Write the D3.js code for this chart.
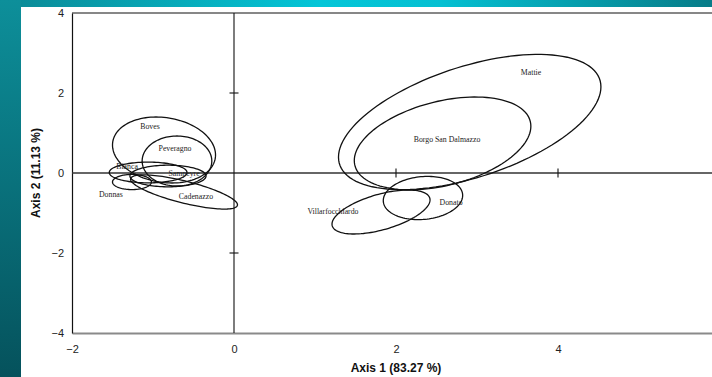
<!DOCTYPE html>
<html>
<head>
<meta charset="utf-8">
<script src="https://cdn.jsdelivr.net/npm/d3@7"></script>
<style>
  html, body { margin: 0; padding: 0; background: #fff; }
  svg { display: block; }
  .tick-label { font-family: "Liberation Sans", Arial, sans-serif; font-size: 11px; fill: #222; }
  .axis-title { font-family: "Liberation Sans", Arial, sans-serif; font-size: 12px; font-weight: bold; fill: #111; }
  .site-label { font-family: "Liberation Serif", "Times New Roman", serif; font-size: 7.8px; fill: #222; }
</style>
</head>
<body>
<div id="chart"></div>
<script>
// ---------- data (PCA scores, 95% ellipses) ----------
const names = ["Mattie", "Borgo San Dalmazzo", "Villarfocchiardo", "Donato",
  "Boves", "Peveragno", "Bianca", "Sampeyre", "Donnas", "Cadenazzo"];
const centerX = [2.91, 2.575, 1.815, 2.333, -0.864, -0.704, -1.06, -0.815, -1.26, -0.617];
const centerY = [1.275, 0.74, -0.975, -0.625, 0.575, 0.3, 0.0125, -0.075, -0.225, -0.475];
const spreadX = [1.62, 1.09, 0.605, 0.49, 0.636, 0.43, 0.48, 0.47, 0.24, 0.66];
const spreadY = [1.69, 1.16, 0.55, 0.54, 0.825, 0.625, 0.26, 0.27, 0.19, 0.427];
const corr = [0.52, 0.37, 0.55, 0.12, -0.15, 0, 0, 0, 0, -0.75];
const labelX = [3.667, 2.63, 1.222, 2.68, -1.037, -0.728, -1.32, -0.617, -1.52, -0.47];
const labelY = [2.5, 0.825, -0.975, -0.75, 1.15, 0.6, 0.15, -0.025, -0.55, -0.6];

const xTicks = [-2, 0, 2, 4];
const yTicks = [-4, -2, 0, 2, 4];
const xTitle = "Axis 1 (83.27 %)";
const yTitle = "Axis 2 (11.13 %)";

// ---------- layout ----------
const width = 712, height = 377;
const plot = { left: 72, top: 13, right: 720, bottom: 333 };

const svg = d3.select("#chart").append("svg")
  .attr("width", width)
  .attr("height", height);

// slide background (teal frame on top and left)
const defs = svg.append("defs");
const gTop = defs.append("linearGradient").attr("id", "gTop").attr("x1", 0).attr("x2", 1).attr("y1", 0).attr("y2", 0);
gTop.append("stop").attr("offset", "0%").attr("stop-color", "#0b8894");
gTop.append("stop").attr("offset", "45%").attr("stop-color", "#04c6d8");
gTop.append("stop").attr("offset", "62%").attr("stop-color", "#05c0d2");
gTop.append("stop").attr("offset", "100%").attr("stop-color", "#077c88");
const gLeft = defs.append("linearGradient").attr("id", "gLeft").attr("x1", 0).attr("x2", 0).attr("y1", 0).attr("y2", 1);
gLeft.append("stop").attr("offset", "0%").attr("stop-color", "#0d8f9a");
gLeft.append("stop").attr("offset", "100%").attr("stop-color", "#05525c");

svg.append("rect").attr("x", 0).attr("y", 0).attr("width", width).attr("height", 7).attr("fill", "url(#gTop)");
svg.append("rect").attr("x", 0).attr("y", 0).attr("width", 21).attr("height", height).attr("fill", "url(#gLeft)");

defs.append("clipPath").attr("id", "plotClip")
  .append("rect")
  .attr("x", plot.left).attr("y", plot.top)
  .attr("width", width - plot.left).attr("height", plot.bottom - plot.top);

// ---------- scales ----------
const x = d3.scaleLinear().domain([-2, 6]).range([plot.left, plot.right]);
const y = d3.scaleLinear().domain([-4, 4]).range([plot.bottom, plot.top]);

// frame: top border
svg.append("line")
  .attr("x1", plot.left).attr("x2", width)
  .attr("y1", plot.top).attr("y2", plot.top)
  .attr("stroke", "#111").attr("stroke-width", 1.2);

// bottom axis (labels + grey border)
const xAxis = svg.append("g")
  .attr("transform", `translate(0,${plot.bottom})`)
  .call(d3.axisBottom(x).tickValues(xTicks).tickSize(0).tickPadding(12));
xAxis.select(".domain").attr("stroke", "#8a8a8a").attr("stroke-width", 2);
xAxis.selectAll("text").attr("class", "tick-label").attr("font-size", null).attr("font-family", null);

// left axis
const yAxis = svg.append("g")
  .attr("transform", `translate(${plot.left},0)`)
  .call(d3.axisLeft(y).tickValues(yTicks).tickSize(0).tickPadding(8));
yAxis.select(".domain").attr("stroke", "#111").attr("stroke-width", 1.2);
yAxis.selectAll("text").attr("class", "tick-label").attr("font-size", null).attr("font-family", null);

// zero lines with small cross ticks
const inner = svg.append("g").attr("clip-path", "url(#plotClip)");
inner.append("line")
  .attr("x1", plot.left).attr("x2", width)
  .attr("y1", y(0)).attr("y2", y(0))
  .attr("stroke", "#333").attr("stroke-width", 1.6);
inner.append("line")
  .attr("x1", x(0)).attr("x2", x(0))
  .attr("y1", plot.top).attr("y2", plot.bottom)
  .attr("stroke", "#111").attr("stroke-width", 1.1);

inner.selectAll(".xcross")
  .data(xTicks.filter(d => d > 0))
  .enter().append("line")
  .attr("x1", d => x(d)).attr("x2", d => x(d))
  .attr("y1", y(0) - 4.5).attr("y2", y(0) + 4.5)
  .attr("stroke", "#111").attr("stroke-width", 1.1);
inner.selectAll(".ycross")
  .data(yTicks.filter(d => d !== 0 && Math.abs(d) < 4))
  .enter().append("line")
  .attr("x1", x(0) - 4.5).attr("x2", x(0) + 4.5)
  .attr("y1", d => y(d)).attr("y2", d => y(d))
  .attr("stroke", "#111").attr("stroke-width", 1.1);

// ---------- ellipses ----------
const steps = d3.range(0, 121).map(i => (i / 120) * 2 * Math.PI);
const line = d3.line()
  .x(p => x(p[0]))
  .y(p => y(p[1]))
  .curve(d3.curveLinearClosed);

names.forEach((name, i) => {
  const r = corr[i];
  const pts = steps.map(t => [
    centerX[i] + spreadX[i] * Math.cos(t),
    centerY[i] + spreadY[i] * (r * Math.cos(t) + Math.sqrt(1 - r * r) * Math.sin(t))
  ]);
  inner.append("path")
    .attr("d", line(pts))
    .attr("fill", "none")
    .attr("stroke", "#111")
    .attr("stroke-width", 1.3);
});

// labels
inner.selectAll(".site-label")
  .data(names)
  .enter().append("text")
  .attr("class", "site-label")
  .attr("x", (d, i) => x(labelX[i]))
  .attr("y", (d, i) => y(labelY[i]))
  .attr("text-anchor", "middle")
  .attr("dominant-baseline", "middle")
  .text(d => d);

// ---------- axis titles ----------
svg.append("text")
  .attr("class", "axis-title")
  .attr("x", (plot.left + plot.right) / 2)
  .attr("y", 372)
  .attr("text-anchor", "middle")
  .text(xTitle);

svg.append("text")
  .attr("class", "axis-title")
  .attr("transform", `translate(40,${(plot.top + plot.bottom) / 2}) rotate(-90)`)
  .attr("text-anchor", "middle")
  .text(yTitle);
</script>
</body>
</html>
